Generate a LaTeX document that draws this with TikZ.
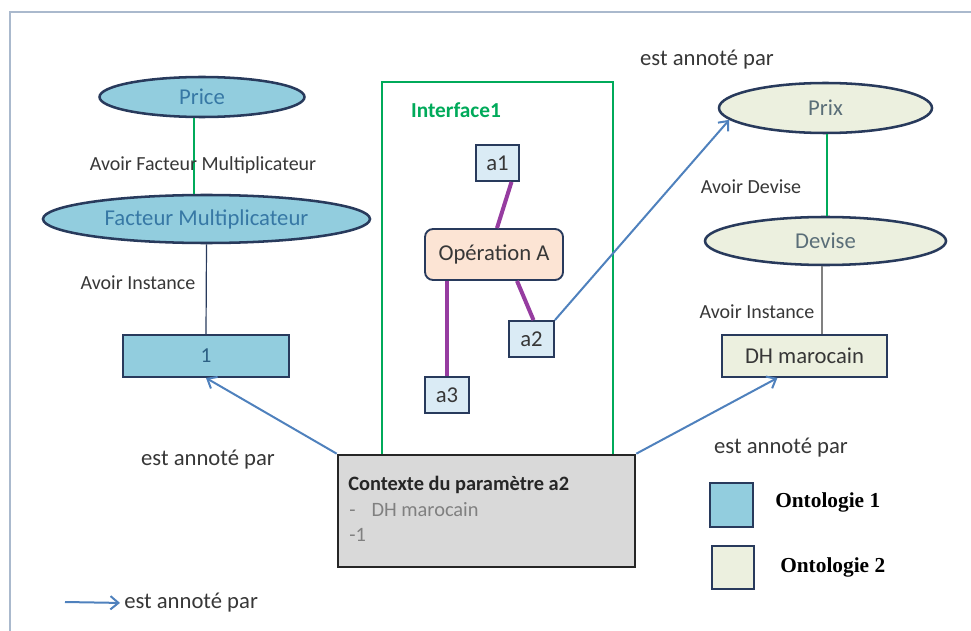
\documentclass[tikz,border=0pt]{standalone}
\usepackage{fontspec}
\setmainfont{Carlito}
\newfontfamily\legendfont{Liberation Serif}
\usetikzlibrary{shapes.geometric,arrows.meta,calc}

\definecolor{ontoA}{RGB}{146,205,222}
\definecolor{ontoB}{RGB}{236,240,223}
\definecolor{navy}{RGB}{40,58,92}
\definecolor{annot}{RGB}{79,129,189}
\definecolor{ifgreen}{RGB}{0,170,90}
\definecolor{opfill}{RGB}{252,228,212}
\definecolor{purp}{RGB}{150,60,160}
\definecolor{ctxgray}{RGB}{217,217,217}
\definecolor{txtblue}{RGB}{55,120,165}
\definecolor{txtgray}{RGB}{90,110,120}
\definecolor{lblgray}{RGB}{55,55,55}
\definecolor{framecol}{RGB}{170,185,205}
\definecolor{paramfill}{RGB}{218,235,245}

\begin{document}
\begin{tikzpicture}[x=0.75pt,y=0.75pt,yscale=-1,xscale=1,
  conceptA/.style={ellipse,draw=navy,line width=1.9pt,fill=ontoA,inner sep=0pt,text=txtblue,font=\fontsize{17}{19}\selectfont},
  conceptB/.style={ellipse,draw=navy,line width=1.9pt,fill=ontoB,inner sep=0pt,text=txtgray,font=\fontsize{17}{19}\selectfont},
  instbox/.style={rectangle,draw=navy,line width=1.4pt,inner sep=0pt},
  parambox/.style={rectangle,draw=navy,line width=1.4pt,fill=paramfill,inner sep=0pt,text=lblgray,font=\fontsize{17}{19}\selectfont},
  relabel/.style={text=lblgray,inner sep=0pt,font=\fontsize{15}{17}\selectfont},
  annolabel/.style={text=lblgray,inner sep=0pt,font=\fontsize{17}{19}\selectfont},
  legendtext/.style={inner sep=0pt,anchor=west,font=\legendfont\bfseries\fontsize{16}{18}\selectfont},
  ctxline/.style={inner sep=0pt,anchor=west,text=gray,font=\fontsize{15.3}{17}\selectfont},
  annotarrow/.style={draw=annot,line width=1.5pt,-{Straight Barb[length=6pt,width=10pt]}},
  oplink/.style={draw=purp,line width=3pt},
  subclass/.style={draw=ifgreen,line width=1.2pt},
  instlink/.style={draw=navy,line width=0.9pt}
]

\useasboundingbox (0,0) rectangle (971,631);
\draw[framecol,line width=1.5pt] (10,640) -- (10,12) -- (980,12);

% ontologie 1
\node[conceptA,minimum width=153.75pt,minimum height=30pt] (price) at (202,97) {Price};
\node[conceptA,minimum width=245.25pt,minimum height=36pt] (facteur) at (206.5,219) {Facteur Multiplicateur};
\node[instbox,fill=ontoA,minimum width=124.5pt,minimum height=31.5pt,text=txtblue!80!black,font=\fontsize{16}{18}\selectfont] (one) at (206,356) {1};

\draw[subclass] ($(price.south)+(-8,0)$) -- ($(facteur.north)+(-12.5,0)$);
\draw[instlink] (facteur.south) -- (one.north);
\node[relabel] (facteurlbl) at (203,165) {Avoir Facteur Multiplicateur};
\node[relabel] (instlblA) at (138,283) {Avoir Instance};

% interface
\node[draw=ifgreen,line width=1.5pt,minimum width=173.25pt,minimum height=279.75pt] (iface) at (497.5,268.5) {};
\node[inner sep=0pt,text=ifgreen,font=\bfseries\fontsize{16}{18}\selectfont] (ifacelbl) at (456,110) {Interface1};

\node[parambox,minimum width=32.25pt,minimum height=27pt] (a1) at (497.5,163) {a1};
\node[rectangle,rounded corners=6pt,draw=navy,line width=1.4pt,fill=opfill,text=lblgray,font=\fontsize{17}{19}\selectfont,minimum width=103.5pt,minimum height=38.25pt] (opA) at (494,254.5) {Opération A};
\node[parambox,minimum width=33.75pt,minimum height=27pt] (a2) at (531.5,339) {a2};
\node[parambox,minimum width=33pt,minimum height=27pt] (a3) at (447,395) {a3};

\draw[oplink] ($(a1.south)+(14,0)$) -- ($(opA.north)+(3,0)$);
\draw[oplink] ($(opA.south)+(23,0)$) -- ($(a2.north)+(2,0)$);
\draw[oplink] (opA.south -| a3.north) -- (a3.north);

% ontologie 2
\node[conceptB,minimum width=159.75pt,minimum height=37.5pt] (prix) at (825.5,108) {Prix};
\node[conceptB,minimum width=180.75pt,minimum height=36pt] (devise) at (825.5,241) {Devise};
\node[instbox,fill=ontoB,minimum width=123.75pt,minimum height=31.5pt,text=lblgray,font=\fontsize{17}{19}\selectfont] (dh) at (804.5,356) {DH marocain};

\draw[subclass] ($(prix.south)+(1.5,0)$) -- ($(devise.north)+(1.5,0)$);
\draw[instlink,draw=gray] ($(devise.south)+(-3.5,0)$) -- (dh.north -| 822,0);
\node[relabel] (deviselbl) at (751,187) {Avoir Devise};
\node[relabel] (instlblB) at (757,312) {Avoir Instance};

% contexte
\node[draw=black!85,line width=2pt,fill=ctxgray,minimum width=222.75pt,minimum height=84pt] (ctx) at (486.5,511) {};
\node[ctxline,text=black!85,font=\bfseries\fontsize{15.3}{17}\selectfont] (ctxtitle) at (348,485) {Contexte du paramètre a2};
\node[ctxline] (ctxunit) at (349,510) {-\hspace{12pt}DH marocain};
\node[ctxline] (ctxscale) at (349,535) {-1};

% annotations
\draw[annotarrow] (ctx.north west) -- (one.south);
\draw[annotarrow] (ctx.north east) -- (dh.-141);
\draw[annotarrow] (a2.north east) -- (prix.187);
\node[annolabel] (annotleft) at (208,460) {est annoté par};
\node[annolabel] (annottop) at (707,60) {est annoté par};
\node[annolabel] (annotright) at (781,448) {est annoté par};

% legende
\node[instbox,fill=ontoA,minimum width=32.25pt,minimum height=33pt] (legA) at (731.5,505) {};
\node[instbox,fill=ontoB,minimum width=31.5pt,minimum height=32.25pt] (legB) at (733,567.5) {};
\node[legendtext] (legAtxt) at (775,502) {Ontologie 1};
\node[legendtext] (legBtxt) at (780,567) {Ontologie 2};
\coordinate (legfrom) at (65,602);
\node[annolabel,anchor=west] (legtxt) at (124,603) {est annoté par};
\draw[annotarrow,shorten >=3pt] (legfrom) -- (legtxt.west);

\end{tikzpicture}
\end{document}
